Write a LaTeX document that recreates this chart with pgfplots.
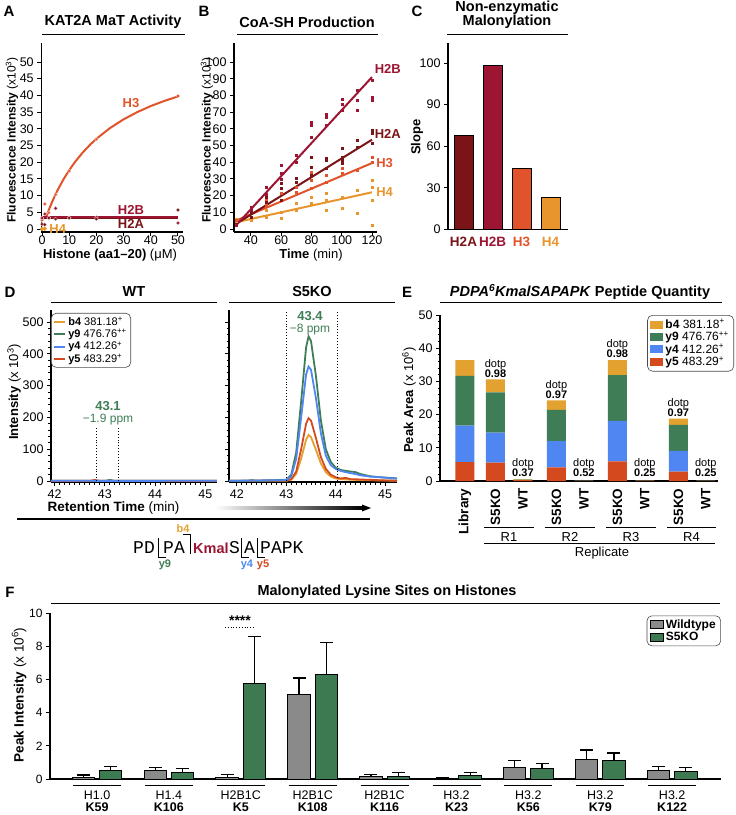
\documentclass[border=0pt]{standalone}
\usepackage{pgfplots}
\pgfplotsset{compat=1.18}
\usepackage{fontspec}
\setmainfont{Liberation Sans}
\setmonofont{Liberation Mono}
\definecolor{cH2A}{HTML}{7A1416}
\definecolor{cH2B}{HTML}{9C1532}
\definecolor{cH3}{HTML}{E1532A}
\definecolor{cH4}{HTML}{E9952E}
\definecolor{cb4}{HTML}{E3A130}
\definecolor{cy9}{HTML}{3E7D56}
\definecolor{cy4}{HTML}{4F86F2}
\definecolor{cy5}{HTML}{D4491E}
\definecolor{cWT}{HTML}{8A8A8A}
\definecolor{cKO}{HTML}{3D7A52}
\newcommand{\fs}[1]{\fontsize{#1}{#1}\selectfont}
\pgfplotsset{
  base/.style={scale only axis, anchor=south west,
    axis x line=bottom, axis y line=left,
    axis line style={-, line width=1.3pt},
    every tick/.style={black, line width=1pt},
    tick align=outside, major tick length=4pt, minor tick length=2.5pt,
    tick label style={font=\fs{12.5}},
    /pgf/number format/assume math mode=true,
    clip=false},
}
\begin{document}
\begin{tikzpicture}
\path[use as bounding box] (0pt,0pt) rectangle (736pt,-815pt);

%% ---------------- Panel A
\begin{axis}[base, at={(41.2pt,-232pt)}, width=142.2pt, height=189pt,
  xmin=-0.3, xmax=52, ymin=-0.9, ymax=55.7,
  xtick={0,10,...,50}, ytick={0,5,...,50},
  x tick label style={yshift=3.5pt}]
\addplot[cH3, line width=2pt] coordinates {(1.5,3.57)(2,4.66)(3,6.72)(4,8.63)(5,10.40)(6,12.04)(8,15.01)(10,17.62)(12,19.93)(15,22.94)(18,25.50)(20,27.01)(25,30.23)(30,32.84)(35,35.00)(40,36.82)(45,38.36)(50,39.70)};
\addplot[cH2A, line width=2.6pt] coordinates {(0,3.3)(50,3.3)};
\addplot[cH2B, line width=1.8pt] coordinates {(0,3.7)(50,3.7)};
\addplot[only marks, mark=*, mark size=1.9pt, cH3, mark options={draw=white!80!cH3, line width=0.3pt}] coordinates {(0,2.7)(1,7.5)(2.5,4.9)(5,10.3)(10,17.4)(20,26.9)(50,39.8)};
\addplot[only marks, mark=*, mark size=1.9pt, cH2B, mark options={draw=white!80!cH2B, line width=0.3pt}] coordinates {(0,3.3)(1,4.5)(2.5,3.4)(5,6.2)(10,3.4)(20,3.5)(50,1.8)};
\addplot[only marks, mark=*, mark size=1.9pt, cH2A, mark options={draw=white!80!cH2A, line width=0.3pt}] coordinates {(0,1.4)(1,1.3)(2.5,3.3)(5,3.0)(10,3.3)(20,3.0)(50,5.7)};
\addplot[only marks, mark=*, mark size=1.9pt, cH4] coordinates {(0,0)(1,0.1)};
\node[text=cH3, font=\bfseries\fs{13}] at (axis cs:32.7,37.7) {H3};
\node[text=cH2B, font=\bfseries\fs{13}] at (axis cs:32.7,5.8) {H2B};
\node[text=cH2A, font=\bfseries\fs{13}] at (axis cs:32.7,1.4) {H2A};
\node[text=cH4, font=\bfseries\fs{13}] at (axis cs:5.8,0.1) {H4};
\end{axis}

%% ---------------- Panel B
\begin{axis}[base, at={(234pt,-232pt)}, width=143pt, height=189pt,
  xmin=28.8, xmax=123.3, ymin=-1.8, ymax=111.4,
  xtick={40,60,...,120}, ytick={0,10,...,100},
  x tick label style={yshift=3.5pt}]
\addplot[only marks, mark=square*, mark size=1pt, cH4] coordinates {(30,4)(30,6)(40,5.5)(50,11.5)(50,7)(60,10)(60,6.5)(70,15.5)(70,11.5)(80,19)(80,15.5)(90,21.5)(90,17.5)(90,11.5)(100,19)(100,12.5)(110,23)(110,9.5)(120,29)(120,25)(120,17.5)(120,2.4)};
\addplot[only marks, mark=square*, mark size=1pt, cH3] coordinates {(30,5)(40,9.5)(50,17.5)(50,14.5)(60,21.5)(60,17.5)(70,25)(70,22)(80,34)(80,29)(80,24.5)(90,32)(90,28)(100,36.5)(100,33.5)(110,35)(120,43)(120,40)};
\addplot[only marks, mark=square*, mark size=1pt, cH2A] coordinates {(30,3)(40,9.5)(40,7)(50,19)(50,16)(60,27.5)(60,24.5)(60,17.5)(70,30.5)(70,28)(80,43)(80,37)(80,32)(90,42.5)(90,41)(90,36.5)(100,48.5)(100,43)(100,41)(100,39.5)(110,53)(110,49)(120,59)(120,57.5)(120,51.5)};
\addplot[only marks, mark=square*, mark size=1pt, cH2B] coordinates {(30,2)(40,11)(40,13)(50,21)(50,25)(60,33.5)(60,38)(60,30)(70,40)(70,44)(80,55)(80,62)(80,64)(90,62)(90,67)(90,69)(100,71)(100,75)(100,78)(110,71)(110,77)(110,83)(120,77)(120,79)(120,89)};
\addplot[cH4, line width=2pt] coordinates {(30,4)(120,22)};
\addplot[cH3, line width=2pt] coordinates {(30,5)(120,39.5)};
\addplot[cH2A, line width=2pt] coordinates {(30,3)(120,53.5)};
\addplot[cH2B, line width=2pt] coordinates {(30,2)(120,91)};
\node[text=cH2B, font=\bfseries\fs{13}, anchor=west] at (axis cs:119.5,96) {H2B};
\node[text=cH2A, font=\bfseries\fs{13}, anchor=west] at (axis cs:119.5,57) {H2A};
\node[text=cH3, font=\bfseries\fs{13}, anchor=west] at (axis cs:120.5,39.5) {H3};
\node[text=cH4, font=\bfseries\fs{13}, anchor=west] at (axis cs:120.5,22) {H4};
\end{axis}

%% ---------------- Panel C
\begin{axis}[base, at={(448pt,-229.5pt)}, width=120pt, height=186.5pt,
  xmin=-0.534, xmax=3.6, ymin=0, ymax=105,
  y coord trafo/.code={\pgfmathparse{#1>90 ? 90+(#1-90)*2.95 : #1}},
  y coord inv trafo/.code={\pgfmathparse{#1>90 ? 90+(#1-90)/2.95 : #1}},
  ytick={0,30,60,90,100}, yticklabels={0,30,60,90,100},
  xtick={0,1,2,3},
  xticklabels={\textcolor{cH2A}{H2A},\textcolor{cH2B}{H2B},\textcolor{cH3}{H3},\textcolor{cH4}{H4}},
  x tick label style={font=\bfseries\fs{13.5}}, x tick style={draw=none}]
\addplot[ybar, bar width=19pt, bar shift=0pt, fill=cH2A, draw=black, line width=0.8pt] coordinates {(0,67.6)};
\addplot[ybar, bar width=19pt, bar shift=0pt, fill=cH2B, draw=black, line width=0.8pt] coordinates {(1,99.5)};
\addplot[ybar, bar width=19pt, bar shift=0pt, fill=cH3, draw=black, line width=0.8pt] coordinates {(2,44)};
\addplot[ybar, bar width=19pt, bar shift=0pt, fill=cH4, draw=black, line width=0.8pt] coordinates {(3,23)};
\end{axis}

%% ---------------- Panel D, WT
\begin{axis}[base, at={(51pt,-482pt)}, width=166pt, height=172pt,
  xmin=41.93, xmax=45.23, ymin=-3, ymax=538,
  xtick={42,43,44,45}, minor x tick num=9, ytick={0,100,...,500}, minor y tick num=4,
  axis line style={-, line width=1.8pt},
  legend style={at={(rel axis cs:0,0.983)}, anchor=north west, draw=black!70, rounded corners=5pt,
    font=\fs{11}, row sep=-1.5pt, inner xsep=2pt, inner ysep=1.5pt, line width=0.6pt},
  legend cell align=left]
\addplot[cb4, line width=1.8pt, forget plot] coordinates {(41.93,0.5)(45.23,0.5)};
\addplot[cy9, line width=1.8pt, forget plot] coordinates {(41.93,0.5)(43.0,0.5)(43.1,3.5)(43.2,0.5)(45.23,0.5)};
\addplot[cy5, line width=1.8pt, forget plot] coordinates {(41.93,0.5)(42.7,0.5)(42.8,3.5)(42.9,0.5)(45.23,0.5)};
\addplot[cy4, line width=1.8pt, forget plot] coordinates {(41.93,0.8)(42.7,0.8)(42.8,0.5)(43.2,0.5)(45.23,0.8)};
\draw[dotted, line width=0.9pt] (axis cs:42.84,0) -- (axis cs:42.84,166);
\draw[dotted, line width=0.9pt] (axis cs:43.28,0) -- (axis cs:43.28,166);
\addlegendimage{legend image code/.code={\draw[sharp corners, cb4, line width=2pt] (0pt,0pt) -- (11pt,0pt);}}
\addlegendentry{\textbf{b4} 381.18\textsuperscript{+}}
\addlegendimage{legend image code/.code={\draw[sharp corners, cy9, line width=2pt] (0pt,0pt) -- (11pt,0pt);}}
\addlegendentry{\textbf{y9} 476.76\textsuperscript{++}}
\addlegendimage{legend image code/.code={\draw[sharp corners, cy4, line width=2pt] (0pt,0pt) -- (11pt,0pt);}}
\addlegendentry{\textbf{y4} 412.26\textsuperscript{+}}
\addlegendimage{legend image code/.code={\draw[sharp corners, cy5, line width=2pt] (0pt,0pt) -- (11pt,0pt);}}
\addlegendentry{\textbf{y5} 483.29\textsuperscript{+}}
\end{axis}

%% ---------------- Panel D, S5KO
\begin{axis}[base, at={(229pt,-482pt)}, width=168pt, height=172pt,
  xmin=41.84, xmax=45.24, ymin=-3, ymax=538,
  xtick={42,43,44,45}, minor x tick num=9, ytick={0,100,...,500}, yticklabels={}, minor y tick num=4,
  axis line style={-, line width=1.8pt}]
\addplot[cb4, line width=1.8pt] coordinates {(41.84,0.5)(43.0,1)(43.1,4)(43.2,22)(43.3,70)(43.4,130)(43.45,145)(43.5,138)(43.6,98)(43.7,55)(43.8,28)(43.9,14)(44.0,8)(44.1,6)(44.2,5)(44.5,3)(45.24,1)};
\addplot[cy5, line width=1.8pt] coordinates {(41.84,0.5)(42.8,2)(43.0,2)(43.1,6)(43.2,30)(43.3,100)(43.4,180)(43.45,198)(43.5,190)(43.6,135)(43.7,75)(43.8,38)(43.9,20)(44.0,12)(44.1,8)(44.2,10)(44.3,6)(44.5,5)(45.0,2)(45.24,1)};
\addplot[cy9, line width=1.8pt] coordinates {(41.84,0.5)(42.2,0.5)(42.3,3)(42.4,0.5)(43.0,4)(43.1,20)(43.2,90)(43.3,250)(43.4,420)(43.45,455)(43.5,440)(43.6,330)(43.7,190)(43.8,100)(43.9,60)(44.0,42)(44.1,35)(44.2,32)(44.3,30)(44.4,28)(44.5,22)(44.7,15)(44.9,12)(45.1,10)(45.24,8)};
\addplot[cy4, line width=1.8pt] coordinates {(41.84,0.8)(43.0,3)(43.1,15)(43.2,70)(43.3,200)(43.4,335)(43.45,360)(43.5,350)(43.6,260)(43.7,150)(43.8,80)(43.9,50)(44.0,38)(44.1,32)(44.2,28)(44.3,25)(44.4,22)(44.5,18)(44.7,14)(44.9,12)(45.1,9)(45.24,8)};
\draw[dotted, line width=0.9pt] (axis cs:43.01,0) -- (axis cs:43.01,538);
\draw[dotted, line width=0.9pt] (axis cs:44.03,0) -- (axis cs:44.03,538);
\end{axis}

%% ---------------- Panel E
\begin{axis}[base, at={(440pt,-481pt)}, width=278pt, height=166pt,
  xmin=-0.82, xmax=8.3, ymin=0, ymax=50, ybar stacked, bar width=19pt,
  ytick={0,10,...,50}, minor y tick num=4,
  xtick={0,1,1.9,3,3.9,5,5.9,7,7.9},
  xticklabels={Library,S5KO,WT,S5KO,WT,S5KO,WT,S5KO,WT},
  x tick label style={rotate=90, anchor=east, font=\bfseries\fs{13.5}},
  x tick style={draw=none}, reverse legend, legend cell align=left,
  legend style={at={(rel axis cs:1.0576,1)}, anchor=north east, draw=black!70, rounded corners=5pt,
    font=\fs{12}, row sep=-2pt, inner xsep=3pt, inner ysep=2pt, line width=0.6pt}]
\addplot[fill=cy5, draw=none, legend image code/.code={\fill[sharp corners, cy5] (0pt,-4pt) rectangle (13pt,4pt);}] coordinates {(0,5.7)(1,5.5)(1.9,0.25)(3,4.1)(3.9,0.05)(5,5.9)(5.9,0.03)(7,2.8)(7.9,0.05)};
\addlegendentry{\textbf{y5} 483.29\textsuperscript{+}}
\addplot[fill=cy4, draw=none, legend image code/.code={\fill[sharp corners, cy4] (0pt,-4pt) rectangle (13pt,4pt);}] coordinates {(0,11.0)(1,9.1)(1.9,0.05)(3,7.9)(3.9,0.02)(5,12.2)(5.9,0.02)(7,6.3)(7.9,0.02)};
\addlegendentry{\textbf{y4} 412.26\textsuperscript{+}}
\addplot[fill=cy9, draw=none, legend image code/.code={\fill[sharp corners, cy9] (0pt,-4pt) rectangle (13pt,4pt);}] coordinates {(0,15.0)(1,12.1)(1.9,0.1)(3,9.4)(3.9,0.02)(5,13.8)(5.9,0.02)(7,7.8)(7.9,0.02)};
\addlegendentry{\textbf{y9} 476.76\textsuperscript{++}}
\addplot[fill=cb4, draw=none, legend image code/.code={\fill[sharp corners, cb4] (0pt,-4pt) rectangle (13pt,4pt);}] coordinates {(0,4.7)(1,3.9)(1.9,0.15)(3,2.9)(3.9,0.02)(5,4.5)(5.9,0.02)(7,1.9)(7.9,0.02)};
\addlegendentry{\textbf{b4} 381.18\textsuperscript{+}}
\node[anchor=south, align=center, font=\fontsize{11}{10}\selectfont, inner sep=1pt] at (axis cs:1,30.9) {dotp\\\textbf{0.98}};
\node[anchor=south, align=center, font=\fontsize{11}{10}\selectfont, inner sep=1pt] at (axis cs:1.9,1.0) {dotp\\\textbf{0.37}};
\node[anchor=south, align=center, font=\fontsize{11}{10}\selectfont, inner sep=1pt] at (axis cs:3,24.6) {dotp\\\textbf{0.97}};
\node[anchor=south, align=center, font=\fontsize{11}{10}\selectfont, inner sep=1pt] at (axis cs:3.9,1.0) {dotp\\\textbf{0.52}};
\node[anchor=south, align=center, font=\fontsize{11}{10}\selectfont, inner sep=1pt] at (axis cs:5,36.7) {dotp\\\textbf{0.98}};
\node[anchor=south, align=center, font=\fontsize{11}{10}\selectfont, inner sep=1pt] at (axis cs:5.9,1.0) {dotp\\\textbf{0.25}};
\node[anchor=south, align=center, font=\fontsize{11}{10}\selectfont, inner sep=1pt] at (axis cs:7,19.1) {dotp\\\textbf{0.97}};
\node[anchor=south, align=center, font=\fontsize{11}{10}\selectfont, inner sep=1pt] at (axis cs:7.9,1.0) {dotp\\\textbf{0.25}};
\end{axis}

%% ---------------- Panel F
\begin{axis}[base, at={(50pt,-779pt)}, width=671pt, height=166pt,
  xmin=-0.654, xmax=8.679, ymin=0, ymax=10, ytick={0,2,...,10},
  tick label style={font=\fs{12}},
  xtick={0,...,8},
  xticklabels={H1.0\\\textbf{K59},H1.4\\\textbf{K106},H2B1C\\\textbf{K5},H2B1C\\\textbf{K108},H2B1C\\\textbf{K116},H3.2\\\textbf{K23},H3.2\\\textbf{K56},H3.2\\\textbf{K79},H3.2\\\textbf{K122}},
  x tick label style={align=center, font=\fontsize{12.5}{11.5}\selectfont, inner sep=0pt, yshift=-8pt},
  x tick style={draw=none}, legend cell align=left,
  legend style={at={(rel axis cs:1,0.985)}, anchor=north east, draw=black!70, rounded corners=5pt,
    font=\bfseries\fs{12}, row sep=-2pt, inner xsep=3pt, inner ysep=2pt, line width=0.6pt}]
\addplot[ybar, bar width=22.5pt, bar shift=0pt, fill=cWT, draw=black, line width=1pt,
  legend image code/.code={\draw[sharp corners, fill=cWT, line width=0.8pt] (0pt,-4pt) rectangle (13pt,4pt);},
  error bars/.cd, y dir=plus, y explicit, error bar style={line width=1.2pt, black},
  error mark options={rotate=90, mark size=6.5pt, line width=1.2pt, black}]
  coordinates {(-0.19,0.12) +- (0,0.12) (0.81,0.50) +- (0,0.20) (1.81,0.12) +- (0,0.15) (2.81,5.08) +- (0,1.00) (3.81,0.15) +- (0,0.10) (4.81,0.05) +- (0,0.03) (5.81,0.72) +- (0,0.40) (6.81,1.20) +- (0,0.55) (7.81,0.50) +- (0,0.25)};
\addlegendentry{Wildtype}
\addplot[ybar, bar width=22.5pt, bar shift=0pt, fill=cKO, draw=black, line width=1pt,
  legend image code/.code={\draw[sharp corners, fill=cKO, line width=0.8pt] (0pt,-4pt) rectangle (13pt,4pt);},
  error bars/.cd, y dir=plus, y explicit, error bar style={line width=1.2pt, black},
  error mark options={rotate=90, mark size=6.5pt, line width=1.2pt, black}]
  coordinates {(0.19,0.50) +- (0,0.25) (1.19,0.42) +- (0,0.20) (2.19,5.75) +- (0,2.85) (3.19,6.32) +- (0,1.90) (4.19,0.17) +- (0,0.20) (5.19,0.22) +- (0,0.16) (6.19,0.63) +- (0,0.32) (7.19,1.12) +- (0,0.45) (8.19,0.46) +- (0,0.21)};
\addlegendentry{S5KO}
\end{axis}

%% ---------------- Annotations
\begin{scope}[x=1pt, y=-1pt]
% panel letters
\node[font=\bfseries\fs{15}] at (9,11) {A};
\node[font=\bfseries\fs{15}] at (204,11) {B};
\node[font=\bfseries\fs{15}] at (417,11) {C};
\node[font=\bfseries\fs{15}] at (10,292) {D};
\node[font=\bfseries\fs{15}] at (407,292) {E};
\node[font=\bfseries\fs{15}] at (10,592) {F};
% titles
\node[font=\bfseries\fs{14.5}] at (113,22) {KAT2A MaT Activity};
\draw[line width=1pt] (42,34) -- (185,34);
\node[font=\bfseries\fs{14.5}] at (307,22) {CoA-SH Production};
\draw[line width=1pt] (237,34) -- (378,34);
\node[font=\bfseries\fontsize{14.5}{14}\selectfont, align=center] at (507,15) {Non-enzymatic\\Malonylation};
\draw[line width=1pt] (447,34) -- (568,34);
\node[font=\bfseries\fs{14.5}] at (134,292) {WT};
\draw[line width=1pt] (51,302) -- (217,302);
\node[font=\bfseries\fs{14.5}] at (312,292) {S5KO};
\draw[line width=1pt] (229,302) -- (395,302);
\node[font=\bfseries\fs{14.5}] at (580,292) {\textit{PDPA\textsuperscript{6}KmalSAPAPK} Peptide Quantity};
\draw[line width=1pt] (440,302) -- (722,302);
\node[font=\bfseries\fs{14.5}] at (387,592) {Malonylated Lysine Sites on Histones};
\draw[line width=1pt] (51,603) -- (720,603);
% axis labels
\node[rotate=90, font=\fs{12}] at (12,140) {\textbf{Fluorescence Intensity} (x10\textsuperscript{3})};
\node[rotate=90, font=\fs{12}] at (207,140) {\textbf{Fluorescence Intensity} (x10\textsuperscript{3})};
\node[rotate=90, font=\bfseries\fs{13}] at (417,137) {Slope};
\node[rotate=90, font=\fs{13}] at (14,392) {\textbf{Intensity} (x 10\textsuperscript{3})};
\node[rotate=90, font=\fs{13}] at (409,400) {\textbf{Peak Area} (x 10\textsuperscript{6})};
\node[rotate=90, font=\fs{13.5}] at (19,695) {\textbf{Peak Intensity} (x 10\textsuperscript{6})};
\node[font=\fs{13}] at (110,255) {\textbf{Histone (aa1–20)} (μM)};
\node[font=\fs{13}] at (311,255) {\textbf{Time} (min)};
\node[font=\fs{13.5}, anchor=east] at (183,508) {\textbf{Retention Time} (min)};
\shade[left color=white, right color=black] (215,506.9) rectangle (363,509.1);
\fill (371,508) -- (362,504.5) -- (362,511.5) -- cycle;
\draw[line width=1.2pt] (17,519) -- (370,519);
% D annotations
\node[text=cy9, font=\bfseries\fs{13}, inner sep=0.5pt] at (108,406) {43.1};
\node[text=cy9, font=\fs{12}, inner sep=0.5pt] at (108,419.5) {−1.9 ppm};
\node[text=cy9, font=\bfseries\fs{13}, inner sep=0.5pt] at (310,316) {43.4};
\node[text=cy9, font=\fs{12}, inner sep=0.5pt] at (310,329.5) {−8 ppm};
% sequence
\node[font=\ttfamily\fs{18}, anchor=base west, inner sep=0pt] at (133,553) {PD};
\node[font=\ttfamily\fs{18}, anchor=base west, inner sep=0pt] at (163,553) {PA};
\node[font=\bfseries\fs{14.5}, text=cH2B, anchor=base west, inner sep=0pt] at (193,553) {Kmal};
\node[font=\ttfamily\fs{18}, anchor=base west, inner sep=0pt] at (229,553) {S};
\node[font=\ttfamily\fs{18}, anchor=base west, inner sep=0pt] at (244,553) {A};
\node[font=\ttfamily\fs{18}, anchor=base west, inner sep=0pt] at (260,553) {PAPK};
\draw[line width=0.7pt] (158,538) -- (158,557) -- (166,557);
\draw[line width=0.7pt] (183,534) -- (190,534) -- (190,554);
\draw[line width=0.7pt] (241,538) -- (241,557) -- (249,557);
\draw[line width=0.7pt] (257,538) -- (257,557) -- (265,557);
\node[text=cb4, font=\bfseries\fs{11}] at (183,529) {b4};
\node[text=cy9, font=\bfseries\fs{11}] at (165,565) {y9};
\node[text=cy4, font=\bfseries\fs{11}] at (247,565) {y4};
\node[text=cy5, font=\bfseries\fs{11}] at (263,565) {y5};
% E group labels
\foreach \a/\b/\l in {484/534/R1,545/595/R2,606/656/R3,667/716/R4}{
  \draw[line width=1pt] (\a,527) -- (\b,527);
  \node[font=\fs{13}] at ({(\a+\b)/2},537) {\l};
}
\draw[line width=1pt] (484,543) -- (715,543);
\node[font=\fs{13}] at (602,553) {Replicate};
% F group lines and stars
\foreach \c in {97,168.9,240.8,312.7,384.6,456.5,528.4,600.3,672.2}{
  \draw[line width=1pt] (\c-24,785) -- (\c+24,785);
}
\node[font=\bfseries\fs{14}] at (240,621) {****};
\draw[dotted, line width=0.8pt] (225,627) -- (255,627);
\end{scope}
\end{tikzpicture}
\end{document}
